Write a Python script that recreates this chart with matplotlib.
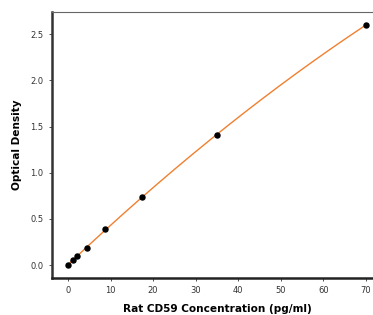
import numpy as np
import matplotlib
matplotlib.use("Agg")
import matplotlib.pyplot as plt

conc = [0, 1.09, 2.19, 4.38, 8.75, 17.5, 35, 70]
od = [0.0, 0.05, 0.10, 0.19, 0.39, 0.74, 1.41, 2.60]
xticks = [0, 10, 20, 30, 40, 50, 60, 70]
yticks = [0.0, 0.5, 1.0, 1.5, 2.0, 2.5]

fig = plt.figure(figsize=(3.73, 3.15), dpi=100)
ax = fig.add_axes([52/373, 1-278/315, 330/373, 266/315])

coef = np.polyfit(conc, od, 2)
xs = np.linspace(0, 70, 300)
ax.plot(xs, np.polyval(coef, xs), color="#f08030", lw=1.0, zorder=2)
ax.scatter(conc, od, color="black", s=13, zorder=3)

ax.set_xlim(-3.76, 73.8)
ax.set_ylim(-0.14, 2.74)
ax.set_xticks(xticks)
ax.set_yticks(yticks)
ax.set_xticklabels([str(t) for t in xticks])
ax.set_yticklabels([f"{t:.1f}" for t in yticks])
ax.tick_params(labelsize=6, colors="#333333", length=2.5, width=0.6)

ax.spines["left"].set_linewidth(1.8)
ax.spines["bottom"].set_linewidth(1.8)
ax.spines["left"].set_color("#333333")
ax.spines["bottom"].set_color("#222222")
ax.spines["top"].set_linewidth(0.8)
ax.spines["top"].set_color("#666666")
ax.spines["right"].set_visible(False)

fig.text(217/373, 1-309/315, "Rat CD59 Concentration (pg/ml)", ha="center", va="center",
         fontsize=7.6, fontweight="bold")
fig.text(17/373, 1-145/315, "Optical Density", ha="center", va="center",
         rotation=90, fontsize=7.6, fontweight="bold")

fig.savefig("out.png", dpi=100)
